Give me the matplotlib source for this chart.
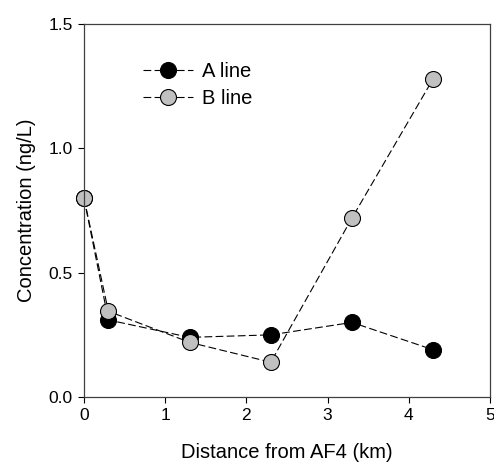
import matplotlib
matplotlib.use("Agg")
import matplotlib.pyplot as plt

plt.rcParams['font.family'] = ['Liberation Sans', 'DejaVu Sans']

# distance downstream (km) and measured concentrations (ng/L)
distance = [0, 0.3, 1.3, 2.3, 3.3, 4.3]
line_a = [0.80, 0.31, 0.24, 0.25, 0.30, 0.19]
line_b = [0.80, 0.345, 0.22, 0.14, 0.72, 1.28]

fig = plt.figure(figsize=(4.94, 4.63), dpi=100)
ax = fig.add_axes([0.170, 0.1425, 0.822, 0.8055])

dash = (0, (7, 3))
ax.plot(distance, line_a, linestyle=dash, color='black', linewidth=0.8,
        marker='o', markersize=11.5, markerfacecolor='black',
        markeredgecolor='black', markeredgewidth=0.8, label='A line', clip_on=False)
ax.plot(distance, line_b, linestyle=dash, color='black', linewidth=0.8,
        marker='o', markersize=11.5, markerfacecolor='#c0c0c0',
        markeredgecolor='black', markeredgewidth=0.8, label='B line', clip_on=False)

ax.set_xlim(0, 5)
ax.set_ylim(0, 1.5)
ax.set_xticks([0, 1, 2, 3, 4, 5])
ax.set_yticks([0.0, 0.5, 1.0, 1.5])
ax.set_yticklabels(['0.0', '0.5', '1.0', '1.5'])
ax.tick_params(direction='out', length=4, width=0.8, labelsize=12.5, colors='black', pad=4)
for s in ax.spines.values():
    s.set_linewidth(0.9)
    s.set_color('#404040')

ax.set_xlabel('Distance from AF4 (km)', fontsize=14.5, labelpad=14)
ax.set_ylabel('Concentration (ng/L)', fontsize=14.5, labelpad=9)

ax.legend(loc='upper left', bbox_to_anchor=(0.11, 0.935), frameon=False,
          fontsize=14.5, handlelength=2.5, handletextpad=0.45, labelspacing=0.38,
          borderpad=0.2)

fig.savefig('out.png', dpi=100)
